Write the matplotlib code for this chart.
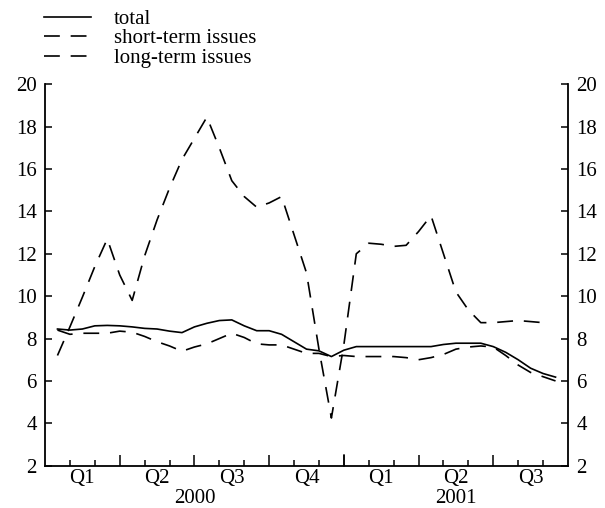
import matplotlib
matplotlib.use('Agg')
import matplotlib.pyplot as plt
import numpy as np

plt.rcParams['font.family'] = ['Liberation Serif', 'DejaVu Serif']

# months since start of Jan 2000, half-month spacing
months_total = np.arange(0.5, 21.0, 0.5)
total = [8.45, 8.40, 8.45, 8.60, 8.62, 8.60, 8.55, 8.48, 8.45, 8.35,
         8.28, 8.55, 8.72, 8.85, 8.88, 8.60, 8.37, 8.37, 8.20, 7.85,
         7.50, 7.42, 7.15, 7.45, 7.62, 7.62, 7.62, 7.62, 7.62, 7.62,
         7.62, 7.72, 7.78, 7.78, 7.78, 7.62, 7.35, 7.00, 6.60, 6.35,
         6.18]
long_term = [8.40, 8.20, 8.25, 8.25, 8.25, 8.35, 8.30, 8.10, 7.85, 7.65,
             7.40, 7.60, 7.75, 8.00, 8.25, 8.05, 7.75, 7.70, 7.70, 7.50,
             7.30, 7.30, 7.15, 7.20, 7.15, 7.15, 7.15, 7.15, 7.10, 7.00,
             7.10, 7.25, 7.50, 7.60, 7.65, 7.60, 7.20, 6.75, 6.40, 6.20,
             6.00]
months_short = np.arange(0.5, 20.5, 0.5)
short_term = [7.20, 8.55, 9.95, 11.40, 12.70, 11.00, 9.80, 11.90, 13.60, 15.10,
              16.45, 17.45, 18.45, 17.00, 15.45, 14.70, 14.20, 14.40, 14.70, 12.90,
              11.10, 7.50, 4.25, 7.70, 12.00, 12.50, 12.45, 12.35, 12.40, 13.05,
              13.80, 12.00, 10.20, 9.35, 8.75, 8.75, 8.80, 8.85, 8.80, 8.75]

quarter_pos = [1.5, 4.5, 7.5, 10.5, 13.5, 16.5, 19.5]
quarter_lab = ['Q1', 'Q2', 'Q3', 'Q4', 'Q1', 'Q2', 'Q3']
year_pos = [6, 16.5]
year_lab = ['2000', '2001']

fs = 15
fig = plt.figure(figsize=(6.05, 5.08), dpi=100)
ax = fig.add_axes([0.0744, 0.0833, 0.8644, 0.7508])

lw = 1.2
dash = (9.5, 6.5)
ax.plot(months_total, total, color='black', lw=lw, label='total')
ax.plot(months_short, short_term, color='black', lw=lw, dashes=dash,
        label='short-term issues')
ax.plot(months_total, long_term, color='black', lw=lw, dashes=dash,
        label='long-term issues')

ax.set_xlim(0, 21)
ax.set_ylim(2, 20)
ax.set_yticks(np.arange(2, 21, 2))
ax.spines['top'].set_visible(False)
for s in ['left', 'right', 'bottom']:
    ax.spines[s].set_linewidth(1.3)

ax.tick_params(axis='y', direction='in', length=5, width=1.1, labelsize=fs,
               right=True, labelright=True, pad=6)
ax.set_xticks(np.arange(3, 21, 3))
ax.set_xticks([m for m in range(1, 21) if m % 3], minor=True)
ax.tick_params(axis='x', which='major', direction='in', length=8, width=1.1,
               labelbottom=False)
ax.tick_params(axis='x', which='minor', direction='in', length=4.3, width=1.1)
# longer tick at the year boundary
ax.plot([12, 12], [0, 0.029], color='black', lw=1.1,
        transform=ax.get_xaxis_transform(), clip_on=False)

tr = ax.get_xaxis_transform()
for p, l in zip(quarter_pos, quarter_lab):
    ax.text(p, -0.008, l, transform=tr, ha='center', va='top', fontsize=fs)
for p, l in zip(year_pos, year_lab):
    ax.text(p, -0.062, l, transform=tr, ha='center', va='top', fontsize=fs)

fig.legend(loc='upper left', bbox_to_anchor=(0.066, 0.99), frameon=False,
           fontsize=fs, handlelength=2.26, handletextpad=1.1,
           labelspacing=0.0, borderaxespad=0, borderpad=0.2)

fig.savefig('out.png', dpi=100)
